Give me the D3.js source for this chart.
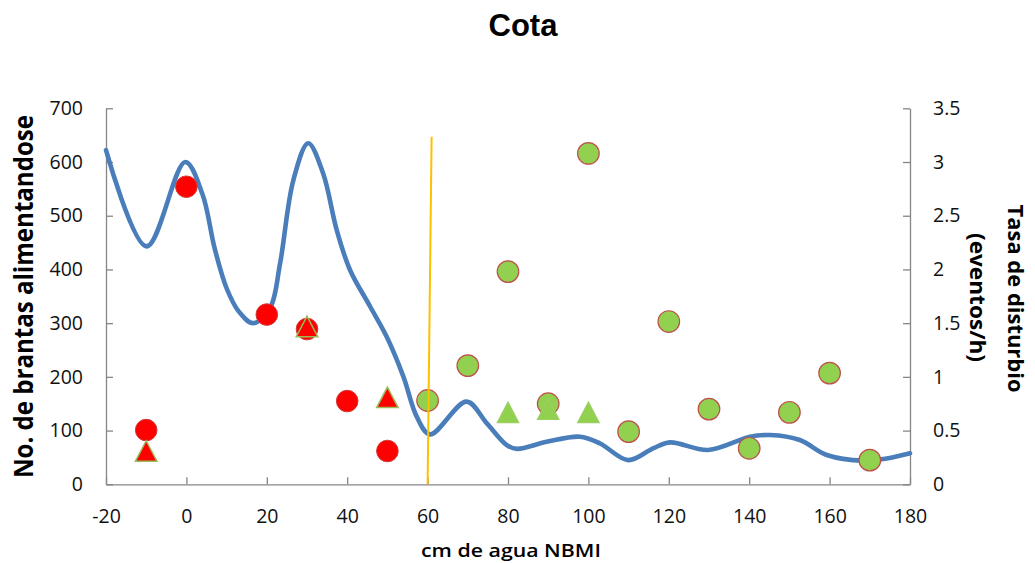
<!DOCTYPE html>
<html><head><meta charset="utf-8">
<script src="https://cdn.jsdelivr.net/npm/d3@7"></script>
<style>body{margin:0;background:#fff}svg{display:block}</style>
</head><body><svg id="c" width="1035" height="563"></svg>
<script>
// ---- data ----
const xTicks = [-20, 0, 20, 40, 60, 80, 100, 120, 140, 160, 180];
const leftTicks = [0, 100, 200, 300, 400, 500, 600, 700];
const rightTicks = [0, 0.5, 1, 1.5, 2, 2.5, 3, 3.5];

const redCircleX = [-10, 0, 20, 30, 40, 50];
const redCircleY = [101, 554, 316, 289, 155, 62];
const greenCircleX = [60, 70, 80, 90, 100, 110, 120, 130, 140, 150, 160, 170];
const greenCircleY = [156, 221, 396, 150, 616, 98, 303, 140, 67, 134, 207, 45];

const redTriX = [-10, 30, 50];
const redTriY = [0.31, 1.47, 0.81];
const greenTriX = [80, 90, 100];
const greenTriY = [0.67, 0.70, 0.67];

const trendX = [-20, -9.9, -0.3, 4, 7, 10, 13, 16.6, 20.8, 23.3, 26.6, 30.3, 34, 37.4, 40.7, 45.7, 49.8, 54, 57.3, 60.6, 69.7, 74.7, 79.7, 82.2, 89.6, 97.9, 102.9, 109.9, 116.1, 120.3, 129.8, 140.2, 145.2, 152.6, 159.3, 168.4, 174.2, 180];
const trendY = [622, 443, 600, 540, 440, 365, 322, 300, 328, 411, 566, 635, 579, 473, 399, 331, 275, 200, 126, 93, 154, 114, 73, 66, 79, 88.6, 76, 45, 67, 78, 64, 88.6, 91.8, 82.5, 54.5, 44, 48, 57.7];

const refX = [60, 61];
const refY = [0, 647];

// ---- layout ----
const svg = d3.select('#c');
const x = d3.scaleLinear().domain([-20, 180]).range([106, 910]);
const yL = d3.scaleLinear().domain([0, 700]).range([484.3, 108.3]);
const yR = d3.scaleLinear().domain([0, 3.5]).range([484.3, 108.3]);
const axisColor = '#868686';
const tickFont = "'Open Sans', sans-serif";

function styleAxis(g) {
  g.selectAll('path.domain').attr('stroke', axisColor).attr('stroke-width', 1.3);
  g.selectAll('.tick line').attr('stroke', axisColor).attr('stroke-width', 1.3);
  g.selectAll('.tick text').attr('fill', '#111').style('font-family', tickFont).style('font-size', '19.5px');
}

svg.append('g').attr('transform', 'translate(0,484.3)')
  .call(d3.axisBottom(x).tickValues(xTicks).tickSize(-7).tickSizeOuter(0).tickPadding(25).tickFormat(d => String(d)))
  .call(styleAxis);
svg.append('g').attr('transform', 'translate(106,0)')
  .call(d3.axisLeft(yL).tickValues(leftTicks).tickSize(-7).tickSizeOuter(0).tickPadding(23).tickFormat(d => String(d)))
  .call(styleAxis);
svg.append('g').attr('transform', 'translate(910,0)')
  .call(d3.axisRight(yR).tickValues(rightTicks).tickSize(-7).tickSizeOuter(0).tickPadding(23).tickFormat(d => String(d)))
  .call(styleAxis);

// trend line
const trend = trendX.map((v, i) => [v, trendY[i]]);
svg.append('path').datum(trend)
  .attr('fill', 'none').attr('stroke', '#4a7ebb').attr('stroke-width', 4.6)
  .attr('stroke-linejoin', 'round').attr('stroke-linecap', 'round')
  .attr('d', d3.line().x(d => x(d[0])).y(d => yL(d[1])).curve(d3.curveCatmullRom.alpha(0.5)));

// circles
svg.append('g').selectAll('circle').data(redCircleX.map((v, i) => [v, redCircleY[i]])).join('circle')
  .attr('cx', d => x(d[0])).attr('cy', d => yL(d[1])).attr('r', 10.8)
  .attr('fill', '#ff0000').attr('stroke', '#d23a3a').attr('stroke-width', 1);
svg.append('g').selectAll('circle').data(greenCircleX.map((v, i) => [v, greenCircleY[i]])).join('circle')
  .attr('cx', d => x(d[0])).attr('cy', d => yL(d[1])).attr('r', 10.8)
  .attr('fill', '#92d050').attr('stroke', '#c0504d').attr('stroke-width', 1.2);

// triangles
function tri(cx, cy, w, h) {
  return `M${cx},${cy - h / 2}L${cx + w / 2},${cy + h / 2}L${cx - w / 2},${cy + h / 2}Z`;
}
svg.append('g').selectAll('path').data(redTriX.map((v, i) => [v, redTriY[i]])).join('path')
  .attr('d', d => tri(x(d[0]), yR(d[1]), 21.5, 20.5))
  .attr('fill', '#ff0000').attr('stroke', '#9bbb59').attr('stroke-width', 1.5);
svg.append('g').selectAll('path').data(greenTriX.map((v, i) => [v, greenTriY[i]])).join('path')
  .attr('d', d => tri(x(d[0]), yR(d[1]), 21.5, 20.5))
  .attr('fill', '#92d050').attr('stroke', '#9bcf62').attr('stroke-width', 1.2);

// reference line
const ref = refX.map((v, i) => [v, refY[i]]);
svg.append('path').datum(ref).attr('fill', 'none').attr('stroke', '#ffc000').attr('stroke-width', 2)
  .attr('d', d3.line().x(d => x(d[0])).y(d => yL(d[1])));

// titles
svg.append('text').attr('x', 523).attr('y', 36).attr('text-anchor', 'middle')
  .style('font-family', "'Liberation Sans', Arial, sans-serif").style('font-weight', 'bold').style('font-size', '31px')
  .text('Cota');
svg.append('text').attr('x', 511).attr('y', 557).attr('text-anchor', 'middle')
  .style('font-family', tickFont).style('font-weight', '600').style('font-size', '18px')
  .attr('textLength', 180).attr('lengthAdjust', 'spacingAndGlyphs')
  .text('cm de agua NBMI');
svg.append('text').attr('transform', 'translate(33,296.5) rotate(-90)').attr('text-anchor', 'middle')
  .style('font-family', tickFont).style('font-weight', 'bold').style('font-size', '27px')
  .attr('textLength', 363).attr('lengthAdjust', 'spacingAndGlyphs')
  .text('No. de brantas alimentandose');
svg.append('text').attr('transform', 'translate(1008,298.5) rotate(90)').attr('text-anchor', 'middle')
  .style('font-family', tickFont).style('font-weight', 'bold').style('font-size', '22px')
  .attr('textLength', 188).attr('lengthAdjust', 'spacingAndGlyphs')
  .text('Tasa de disturbio');
svg.append('text').attr('transform', 'translate(970,297.5) rotate(90)').attr('text-anchor', 'middle')
  .style('font-family', tickFont).style('font-weight', 'bold').style('font-size', '22px')
  .attr('textLength', 129).attr('lengthAdjust', 'spacingAndGlyphs')
  .text('(eventos/h)');
</script>
</body></html>
